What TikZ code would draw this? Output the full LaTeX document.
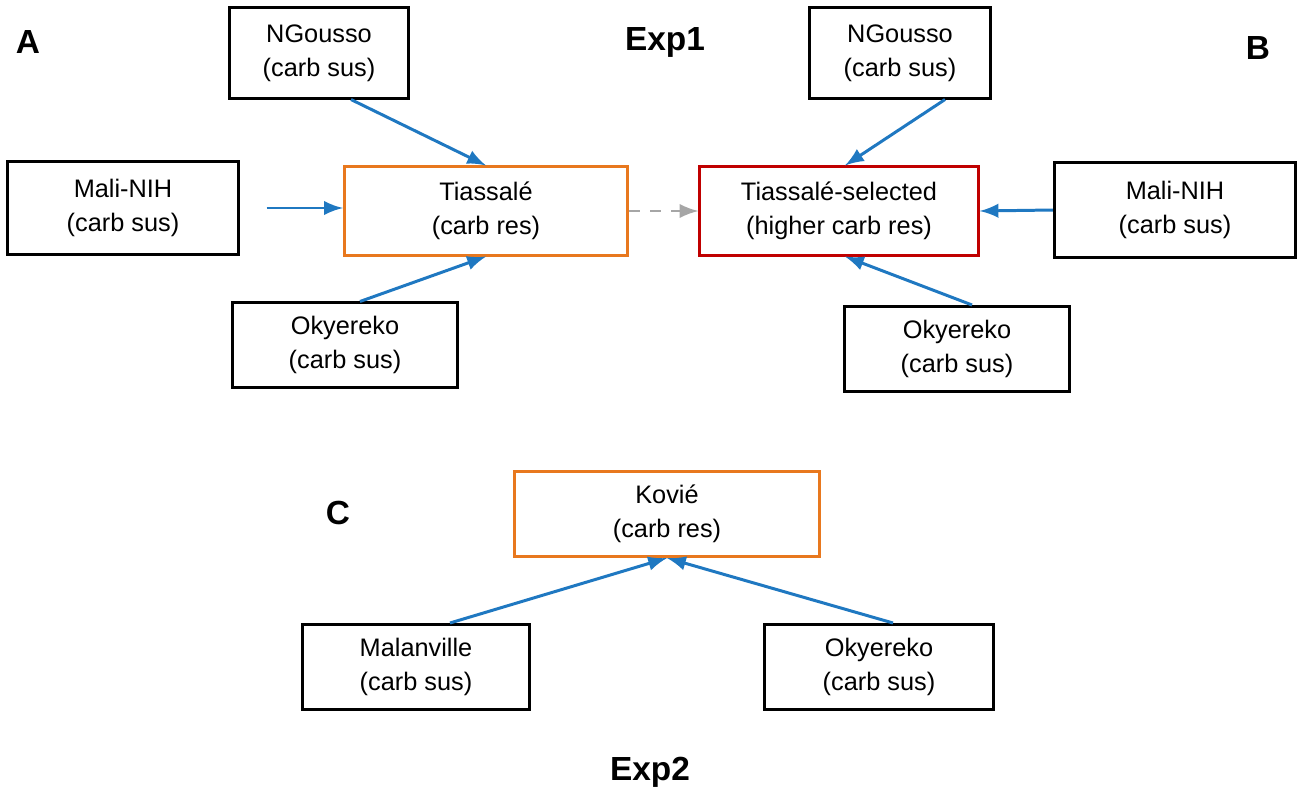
\documentclass[tikz,border=0pt]{standalone}
\usepackage{fontspec}
\setmainfont{Liberation Sans}
\usetikzlibrary{calc}
\definecolor{link-blue}{HTML}{1F78C1}
\definecolor{res-orange}{HTML}{E8781E}
\definecolor{sel-red}{HTML}{C00000}
\tikzset{
  strain/.style={draw=black, line width=0.85pt, align=center, inner sep=0pt,
    font=\fontsize{7.2}{9.6}\selectfont},
  cross/.style={draw=link-blue, line width=0.85pt, -latex},
  panel/.style={font=\fontsize{9.5}{10}\selectfont\bfseries},
}
\begin{document}
\begin{tikzpicture}[x=0.01cm, y=0.01cm]
\useasboundingbox (0,0) rectangle (1304,-800);
% panel A
\node[strain, minimum width=1.78cm, minimum height=0.90cm] at (319,-53) (ngA) {NGousso\\(carb sus)};
\node[strain, minimum width=2.30cm, minimum height=0.93cm] at (123,-208) (maliA) {Mali-NIH\\(carb sus)};
\node[strain, draw=res-orange, minimum width=2.83cm, minimum height=0.88cm] at (486,-211) (tia) {Tiassalé\\(carb res)};
\node[strain, minimum width=2.24cm, minimum height=0.84cm] at (345,-345) (okyA) {Okyereko\\(carb sus)};
% panel B
\node[strain, minimum width=1.80cm, minimum height=0.90cm] at (900,-53) (ngB) {NGousso\\(carb sus)};
\node[strain, draw=sel-red, minimum width=2.78cm, minimum height=0.88cm] at (839,-211) (tiasel) {Tiassalé-selected\\(higher carb res)};
\node[strain, minimum width=2.41cm, minimum height=0.94cm] at (1175,-210) (maliB) {Mali-NIH\\(carb sus)};
\node[strain, minimum width=2.25cm, minimum height=0.85cm] at (957,-349) (okyB) {Okyereko\\(carb sus)};
% panel C
\node[strain, draw=res-orange, minimum width=3.05cm, minimum height=0.85cm] at (667,-514) (kovie) {Kovié\\(carb res)};
\node[strain, minimum width=2.27cm, minimum height=0.85cm] at (416,-667) (malan) {Malanville\\(carb sus)};
\node[strain, minimum width=2.28cm, minimum height=0.85cm] at (879,-667) (okyC) {Okyereko\\(carb sus)};
% labels
\node[panel] at (28,-42) (labA) {A};
\node[panel] at (1258,-48) (labB) {B};
\node[panel] at (338,-513) (labC) {C};
\node[panel] at (665,-42) (exp1) {Exp1};
\node[panel] at (650,-772) (exp2) {Exp2};
% crosses
\draw[cross] ($(ngA.south)+(32,0)$) -- (tia.north);
\draw[cross, shorten <=0.27cm] (maliA.east) -- (tia.west |- maliA.east);
\draw[cross] ($(okyA.north)+(15,0)$) -- (tia.south);
\draw[draw=gray!70, line width=0.85pt, dashed, -latex] (tia.east) -- (tiasel.west);
\draw[cross] ($(ngB.south)+(45,0)$) -- ($(tiasel.north)+(6,0)$);
\draw[cross] (maliB.west) -- (tiasel.east);
\draw[cross] ($(okyB.north)+(15,0)$) -- ($(tiasel.south)+(6,0)$);
\draw[cross] ($(malan.north)+(34,0)$) -- (kovie.south);
\draw[cross] ($(okyC.north)+(14,0)$) -- (kovie.south);
\end{tikzpicture}
\end{document}
